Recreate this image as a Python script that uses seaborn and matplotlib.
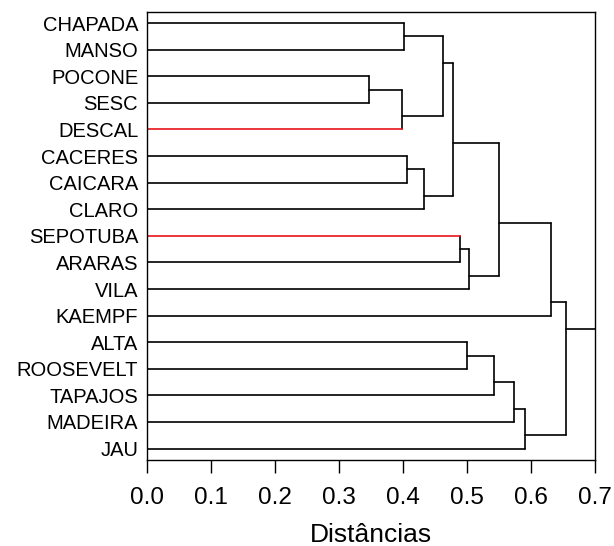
import matplotlib
matplotlib.use("Agg")
import matplotlib.pyplot as plt
import pandas as pd
import seaborn as sns

# leaf order from top to bottom
leaves = ["CHAPADA", "MANSO", "POCONE", "SESC", "DESCAL", "CACERES", "CAICARA", "CLARO",
          "SEPOTUBA", "ARARAS", "VILA", "KAEMPF", "ALTA", "ROOSEVELT", "TAPAJOS", "MADEIRA", "JAU"]

# merges: left child, right child (leaf name or "m<i>"), height
merge_left = ["CHAPADA", "POCONE", "m1", "m0", "CACERES", "m4", "m3", "SEPOTUBA", "m7", "m6", "m9",
              "ALTA", "m11", "m12", "m13", "m10"]
merge_right = ["MANSO", "SESC", "DESCAL", "m2", "CAICARA", "CLARO", "m5", "ARARAS", "VILA", "m8", "KAEMPF",
               "ROOSEVELT", "TAPAJOS", "MADEIRA", "JAU", "m14"]
merge_height = [0.402, 0.347, 0.398, 0.463, 0.407, 0.433, 0.479, 0.489, 0.503, 0.550, 0.632,
                0.500, 0.543, 0.573, 0.590, 0.654]

highlight = ["DESCAL", "SEPOTUBA"]
x_ticks = [0.0, 0.1, 0.2, 0.3, 0.4, 0.5, 0.6, 0.7]
x_label = "Distâncias"


def span(node):
    # first and last leaf index covered by a node
    if node in leaves:
        i = leaves.index(node)
        return i, i
    k = int(node[1:])
    return span(merge_left[k])[0], span(merge_right[k])[1]


def position(node):
    if node in leaves:
        return float(leaves.index(node))
    k = int(node[1:])
    # line leaves the join at the border between the two groups
    return (span(merge_left[k])[1] + span(merge_right[k])[0]) / 2


def height(node):
    return 0.0 if node in leaves else merge_height[int(node[1:])]


def build_segments():
    parent_h = {}
    for k, h in enumerate(merge_height):
        parent_h[merge_left[k]] = h
        parent_h[merge_right[k]] = h
    root = f"m{len(merge_height) - 1}"
    parent_h[root] = x_ticks[-1]

    rows = []
    seg = 0
    for node, ph in parent_h.items():
        y = position(node)
        kind = "red" if node in highlight else "black"
        rows += [(seg, height(node), y, kind), (seg, ph, y, kind)]
        seg += 1
    for k, h in enumerate(merge_height):
        rows += [(seg, h, position(merge_left[k]), "black"), (seg, h, position(merge_right[k]), "black")]
        seg += 1
    return pd.DataFrame(rows, columns=["seg", "x", "y", "kind"])


def main() -> None:
    sns.set_theme(style="white")
    plt.rcParams["font.family"] = ["Liberation Sans", "DejaVu Sans"]
    plt.rcParams["text.color"] = "black"
    plt.rcParams["axes.labelcolor"] = "black"
    plt.rcParams["xtick.color"] = "black"
    plt.rcParams["ytick.color"] = "black"

    segs = build_segments()
    segs["order"] = segs["kind"].map({"black": 0, "red": 1})
    segs = segs.sort_values(["order", "seg"], kind="stable")

    fig = plt.figure(figsize=(6.14, 5.46), dpi=100)
    ax = fig.add_axes([0.2386, 0.1575, 0.7305, 0.8211])
    sns.lineplot(data=segs, x="x", y="y", units="seg", estimator=None, sort=False, hue="kind",
                 palette={"black": "black", "red": "#e8141a"}, linewidth=1.2, legend=False, ax=ax)

    ax.set_xlim(x_ticks[0], x_ticks[-1])
    ax.set_ylim(len(leaves) - 1 + 0.43, -0.43)
    ax.set_xticks(x_ticks)
    ax.set_xticklabels([f"{t:.1f}" for t in x_ticks], fontsize=17.5)
    ax.set_yticks(range(len(leaves)))
    ax.set_yticklabels(leaves, fontsize=14.5)
    ax.tick_params(axis="x", bottom=True, length=9.5, width=1, color="black", labelcolor="black", pad=10)
    ax.tick_params(axis="y", left=False, length=0, pad=6, labelcolor="black")
    ax.set_xlabel(x_label, fontsize=19, labelpad=10, color="black")
    ax.set_ylabel("")
    for spine in ax.spines.values():
        spine.set_visible(True)
        spine.set_color("black")
        spine.set_linewidth(1.0)

    fig.savefig("out.png", dpi=100)
    plt.close(fig)


if __name__ == "__main__":
    main()
